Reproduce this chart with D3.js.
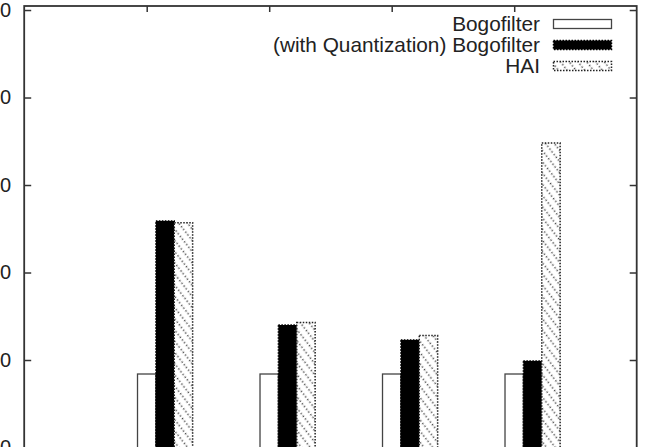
<!DOCTYPE html>
<html>
<head>
<meta charset="utf-8">
<script src="https://cdn.jsdelivr.net/npm/d3@7/dist/d3.min.js"></script>
<style>
  html, body { margin: 0; padding: 0; background: #fff; overflow: hidden; }
  svg { display: block; }
  text { font-family: "Liberation Sans", Arial, sans-serif; fill: #222; }
</style>
</head>
<body>
<svg id="chart" width="646" height="447"></svg>
<script>
// ---- data ----
const groups = [1, 2, 3, 4];
const seriesNames = ["Bogofilter", "(with Quantization) Bogofilter", "HAI"];
const bogofilter = [8.4, 8.4, 8.4, 8.4];
const bogofilterQuant = [25.9, 14.0, 12.3, 9.9];
const hai = [25.7, 14.3, 12.8, 34.8];
const yTicks = [0, 10, 20, 30, 40, 50];

// ---- layout ----
const svg = d3.select("#chart");
const mLeft = 24.2, mRight = 636.7, mTop = 6, mBottom = 447.5;
const x = d3.scaleLinear().domain([0, 5]).range([mLeft, mRight]);
const y = d3.scaleLinear().domain([0, 50.46]).range([mBottom, mTop]);
const barW = 0.15;

// pattern for HAI
const defs = svg.append("defs");
const pat = defs.append("pattern")
  .attr("id", "hatch")
  .attr("patternUnits", "userSpaceOnUse")
  .attr("width", 6).attr("height", 6)
  .attr("patternTransform", "rotate(52) scale(1.15)");
pat.append("rect").attr("width", 6).attr("height", 6).attr("fill", "#fff");
pat.append("line").attr("x1", 0).attr("y1", 3).attr("x2", 6).attr("y2", 3)
  .attr("stroke", "#444").attr("stroke-width", 1.2).attr("stroke-dasharray", "1.2,1.8");

const styles = [
  { fill: "#fff", stroke: "#444", dash: null, sw: 1.3 },
  { fill: "#000", stroke: "#000", dash: "1.5,1.5", sw: 1.5 },
  { fill: "url(#hatch)", stroke: "#222", dash: "1.5,1.5", sw: 1.5 }
];
const seriesData = [bogofilter, bogofilterQuant, hai];

// bars
seriesData.forEach((vals, si) => {
  svg.append("g").selectAll("rect")
    .data(groups.map((g, i) => ({ g, v: vals[i] })))
    .join("rect")
    .attr("x", d => x(d.g + si * barW - barW / 2))
    .attr("width", d => x(d.g + si * barW + barW / 2) - x(d.g + si * barW - barW / 2))
    .attr("y", d => y(d.v))
    .attr("height", d => y(0) - y(d.v) + 10)
    .attr("fill", styles[si].fill)
    .attr("stroke", styles[si].stroke)
    .attr("stroke-width", styles[si].sw)
    .attr("stroke-dasharray", styles[si].dash);
});

// axes
const axisColor = "#333";
const yAxisL = d3.axisLeft(y).tickValues(yTicks).tickSize(-7).tickPadding(20).tickFormat(d3.format("d"));
const gL = svg.append("g").attr("transform", `translate(${mLeft},0)`).call(yAxisL);
const yAxisR = d3.axisRight(y).tickValues(yTicks).tickSize(-7).tickFormat("");
const gR = svg.append("g").attr("transform", `translate(${mRight},0)`).call(yAxisR);
const xAxisT = d3.axisTop(x).tickValues(groups).tickSize(-6).tickFormat("");
const gT = svg.append("g").attr("transform", `translate(0,${mTop})`).call(xAxisT);
[gL, gR, gT].forEach(g => {
  g.select(".domain").remove();
  g.selectAll(".tick line").attr("stroke", axisColor).attr("stroke-width", 1.5);
});
gL.selectAll(".tick text")
  .attr("x", 11 - mLeft).attr("text-anchor", "end")
  .style("font-size", "20px").style("font-family", "Liberation Sans, Arial, sans-serif")
  .attr("fill", "#222");

// frame
svg.append("rect")
  .attr("x", mLeft).attr("y", mTop)
  .attr("width", mRight - mLeft).attr("height", 600)
  .attr("fill", "none").attr("stroke", axisColor).attr("stroke-width", 1.8);

// legend
const legY = [24, 45, 66];
const leg = svg.append("g");
seriesNames.forEach((name, i) => {
  leg.append("text")
    .attr("x", 540).attr("y", legY[i]).attr("dy", "0.36em")
    .attr("text-anchor", "end")
    .style("font-size", "20.8px")
    .text(name);
  leg.append("rect")
    .attr("x", 553.5).attr("y", legY[i] - 4.5)
    .attr("width", 58).attr("height", 9)
    .attr("fill", styles[i].fill)
    .attr("stroke", styles[i].stroke)
    .attr("stroke-width", styles[i].sw)
    .attr("stroke-dasharray", styles[i].dash);
});
</script>
</body>
</html>
